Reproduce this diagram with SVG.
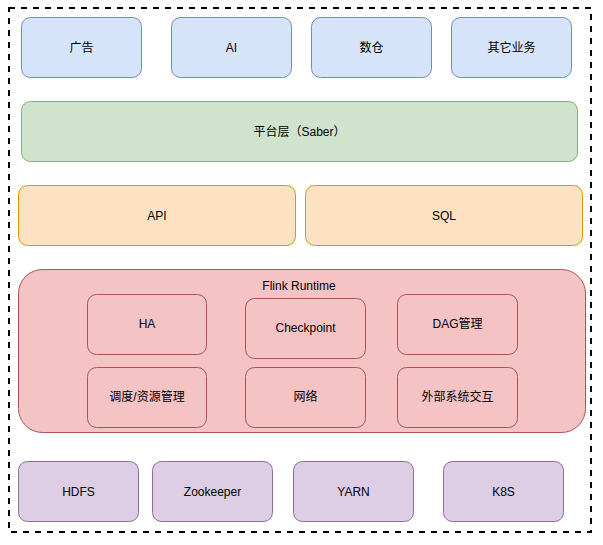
<svg xmlns="http://www.w3.org/2000/svg" width="603" height="545" viewBox="0 0 603 545">
<style>
text{font-family:"Liberation Sans","Noto Sans CJK SC",Arial,sans-serif;font-size:12px;fill:#000;text-anchor:middle;dominant-baseline:central}
.blue{fill:#d6e4fa;stroke:#6c8ebf}
.green{fill:#d0e4cd;stroke:#82b366}
.orange{fill:#fce2c3;stroke:#d79b00}
.red{fill:#f5c3c4;stroke:#ad5357}
.purple{fill:#ddcee5;stroke:#8e6d9e}
.frame{fill:none;stroke:#000;stroke-width:2;stroke-dasharray:6 6}
</style>
<rect width="603" height="545" fill="#fff"/>
<g id="frame"><rect class="frame" x="9" y="8" width="582" height="524"/></g>
<g id="ad"><rect class="blue" x="21.5" y="17.5" width="120" height="60" rx="9"/><text x="81.5" y="47.5">广告</text></g>
<g id="ai"><rect class="blue" x="171.5" y="17.5" width="120" height="60" rx="9"/><text x="231.5" y="47.5">AI</text></g>
<g id="dw"><rect class="blue" x="311.5" y="17.5" width="120" height="60" rx="9"/><text x="371.5" y="47.5">数仓</text></g>
<g id="other"><rect class="blue" x="451.5" y="17.5" width="120" height="60" rx="9"/><text x="511.5" y="47.5">其它业务</text></g>
<g id="platform"><rect class="green" x="21.5" y="101.5" width="556" height="60" rx="9"/><text x="299.5" y="131.5">平台层（Saber）</text></g>
<g id="api"><rect class="orange" x="18.5" y="185.5" width="277" height="60" rx="9"/><text x="157" y="215.5">API</text></g>
<g id="sql"><rect class="orange" x="305.5" y="185.5" width="277" height="60" rx="9"/><text x="444" y="215.5">SQL</text></g>
<g id="runtime"><rect class="red" x="18.5" y="269.5" width="567" height="163" rx="24"/><text x="299" y="286">Flink Runtime</text></g>
<g id="ha"><rect class="red" x="87.5" y="294.5" width="119" height="60" rx="9"/><text x="147" y="324">HA</text></g>
<g id="checkpoint"><rect class="red" x="245.5" y="298.5" width="120" height="60" rx="9"/><text x="305.5" y="328">Checkpoint</text></g>
<g id="dag"><rect class="red" x="397.5" y="294.5" width="120" height="60" rx="9"/><text x="457.5" y="324">DAG管理</text></g>
<g id="sched"><rect class="red" x="87.5" y="367.5" width="119" height="60" rx="9"/><text x="147" y="397">调度/资源管理</text></g>
<g id="net"><rect class="red" x="245.5" y="367.5" width="120" height="60" rx="9"/><text x="305.5" y="397">网络</text></g>
<g id="ext"><rect class="red" x="397.5" y="367.5" width="120" height="60" rx="9"/><text x="457.5" y="397">外部系统交互</text></g>
<g id="hdfs"><rect class="purple" x="18.5" y="461.5" width="120" height="60" rx="9"/><text x="78.5" y="491.5">HDFS</text></g>
<g id="zk"><rect class="purple" x="152.5" y="461.5" width="120" height="60" rx="9"/><text x="212.5" y="491.5">Zookeeper</text></g>
<g id="yarn"><rect class="purple" x="293.5" y="461.5" width="120" height="60" rx="9"/><text x="353.5" y="491.5">YARN</text></g>
<g id="k8s"><rect class="purple" x="443.5" y="461.5" width="120" height="60" rx="9"/><text x="503.5" y="491.5">K8S</text></g>
<g id="connectors"></g>
</svg>
